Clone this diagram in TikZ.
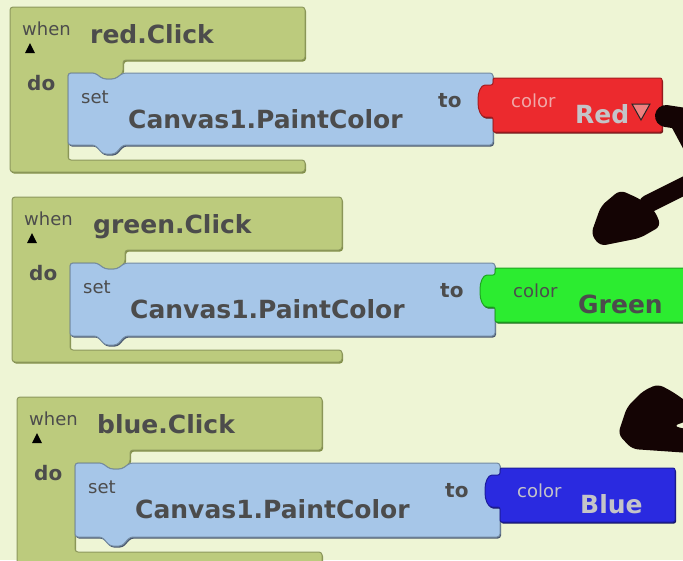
\documentclass[tikz,border=0pt]{standalone}
\usepackage{fontspec}
\setmainfont{DejaVu Sans}
\usepackage{tikz}
\usetikzlibrary{calc,shadows}
\definecolor{bgyellow}{RGB}{238,245,213}
\definecolor{evtgreen}{RGB}{188,203,125}
\definecolor{evtedge}{RGB}{128,142,70}
\definecolor{setblue}{RGB}{166,198,232}
\definecolor{setedge}{RGB}{74,88,110}
\definecolor{valred}{RGB}{236,42,46}
\definecolor{valgreen}{RGB}{44,236,48}
\definecolor{valblue}{RGB}{42,42,224}
\definecolor{labelgray}{RGB}{76,76,76}
\definecolor{palegray}{RGB}{196,196,200}
\definecolor{pinktxt}{RGB}{240,168,168}
\definecolor{pinkfill}{RGB}{240,128,128}
\definecolor{inkblack}{RGB}{20,4,4}

\begin{document}
\begin{tikzpicture}[x=1pt,y=-1pt,
    evtblk/.style={fill=evtgreen,draw=evtgreen!75!black,line width=1pt,rounded corners=3pt,
      drop shadow={shadow xshift=1pt,shadow yshift=-1.5pt,fill=evtedge,opacity=1}},
    setblk/.style={fill=setblue,draw=setblue!70!black,line width=1pt,rounded corners=3pt,
      drop shadow={shadow xshift=1pt,shadow yshift=-1.5pt,fill=setedge,opacity=1}},
    valblk/.style={fill=#1,draw=#1!70!black,line width=1pt,rounded corners=2pt,
      drop shadow={shadow xshift=1pt,shadow yshift=-1.5pt,fill=#1!45!black,opacity=1}},
    smalltxt/.style={anchor=base west,inner sep=0pt,text=labelgray,
      font=\fontsize{18pt}{20pt}\selectfont},
    kwtxt/.style={anchor=base west,inner sep=0pt,text=labelgray,
      font=\fontsize{20pt}{22pt}\selectfont\bfseries},
    bigtxt/.style={anchor=base west,inner sep=0pt,text=labelgray,
      font=\fontsize{25pt}{28pt}\selectfont\bfseries}]
  \useasboundingbox (0,0) rectangle (683,560);
  \clip (0,0) rectangle (683,560);
  \fill[bgyellow] (0,0) rectangle (683,560);
  %% red.Click
  \begin{scope}[shift={(10,7)}]
    \draw[evtblk] (0,0) -- (295,0) -- (295,53) -- (113,53) -- (113,66)
      -- (105,72) -- (93,72) -- (85,66) -- (58,66) -- (58,153)
      -- (295,153) -- (295,165) -- (0,165) -- cycle;
    \draw[setblk] (58,66) -- (85,66) -- (93,72) -- (105,72) -- (113,66)
      -- (483,66) -- (483,138) -- (113,138) -- (105,147) -- (93,147)
      -- (85,138) -- (58,138) -- cycle;
    \draw[valblk=valred] (483,71) -- (652,71) -- (652,125) -- (483,125)
      -- (483,110) -- (477,110) .. controls (471,110) and (468,103) .. (468,94)
      .. controls (468,85) and (471,78) .. (477,78) -- (483,78) -- cycle;
    \fill[black] (15,46) -- (25,46) -- (20,36) -- cycle;
    \node[smalltxt] (when1) at (12,28) {when};
    \node[bigtxt] (evt1) at (80,36) {red.Click};
    \node[kwtxt] (do1) at (17,83) {do};
    \node[smalltxt] (set1) at (71,96) {set};
    \node[bigtxt] (prop1) at (118,121) {Canvas1.PaintColor};
    \node[kwtxt] (to1) at (428,100) {to};
    \node[smalltxt,text=pinktxt] (col1) at (501,100) {color};
    \node[bigtxt,text=palegray] (val1) at (565,116) {Red};
    \draw[fill=pinkfill,draw=black!85,line width=1pt]
      (622,97) -- (640,97) -- (631,113) -- cycle;
  \end{scope}
  %% green.Click
  \begin{scope}[shift={(12,197)}]
    \draw[evtblk] (0,0) -- (330,0) -- (330,53) -- (113,53) -- (113,66)
      -- (105,72) -- (93,72) -- (85,66) -- (58,66) -- (58,153)
      -- (330,153) -- (330,165) -- (0,165) -- cycle;
    \draw[setblk] (58,66) -- (85,66) -- (93,72) -- (105,72) -- (113,66)
      -- (483,66) -- (483,139) -- (113,139) -- (105,148) -- (93,148)
      -- (85,139) -- (58,139) -- cycle;
    \draw[valblk=valgreen] (483,71) -- (700,71) -- (700,125) -- (483,125)
      -- (483,110) -- (477,110) .. controls (471,110) and (468,103) .. (468,94)
      .. controls (468,85) and (471,78) .. (477,78) -- (483,78) -- cycle;
    \fill[black] (15,46) -- (25,46) -- (20,36) -- cycle;
    \node[smalltxt] (when2) at (12,28) {when};
    \node[bigtxt] (evt2) at (81,36) {green.Click};
    \node[kwtxt] (do2) at (17,83) {do};
    \node[smalltxt] (set2) at (71,96) {set};
    \node[bigtxt] (prop2) at (118,121) {Canvas1.PaintColor};
    \node[kwtxt] (to2) at (428,100) {to};
    \node[smalltxt] (col2) at (501,100) {color};
    \node[bigtxt] (val2) at (566,116) {Green};
  \end{scope}
  %% blue.Click
  \begin{scope}[shift={(17,397)}]
    \draw[evtblk] (0,0) -- (305,0) -- (305,53) -- (113,53) -- (113,66)
      -- (105,72) -- (93,72) -- (85,66) -- (58,66) -- (58,155)
      -- (305,155) -- (305,167) -- (0,167) -- cycle;
    \draw[setblk] (58,66) -- (85,66) -- (93,72) -- (105,72) -- (113,66)
      -- (483,66) -- (483,140) -- (113,140) -- (105,149) -- (93,149)
      -- (85,140) -- (58,140) -- cycle;
    \draw[valblk=valblue] (483,71) -- (658,71) -- (658,125) -- (483,125)
      -- (483,110) -- (477,110) .. controls (471,110) and (468,103) .. (468,94)
      .. controls (468,85) and (471,78) .. (477,78) -- (483,78) -- cycle;
    \fill[black] (15,46) -- (25,46) -- (20,36) -- cycle;
    \node[smalltxt] (when3) at (12,28) {when};
    \node[bigtxt] (evt3) at (80,36) {blue.Click};
    \node[kwtxt] (do3) at (17,83) {do};
    \node[smalltxt] (set3) at (71,96) {set};
    \node[bigtxt] (prop3) at (118,121) {Canvas1.PaintColor};
    \node[kwtxt] (to3) at (428,100) {to};
    \node[smalltxt,text=palegray] (col3) at (500,100) {color};
    \node[bigtxt,text=palegray] (val3) at (563,116) {Blue};
  \end{scope}
  %% hand-drawn arrows
  \draw[inkblack,line width=22pt,line cap=round] (666,116) -- (692,120);
  \draw[inkblack,line width=18pt,line cap=round] (678,120) -- (692,146);
  \draw[inkblack,line width=18pt,line cap=round] (692,182) -- (648,204);
  \fill[inkblack,rounded corners=6pt] (620,190) -- (601,206) -- (591,234)
    -- (600,246) -- (640,238) -- (661,226) -- (655,211) -- (640,199) -- cycle;
  \fill[inkblack,rounded corners=6pt] (658,384) -- (673,392) -- (690,404)
    -- (690,420) -- (673,426) -- (690,430) -- (690,453) -- (632,449)
    -- (618,434) -- (627,407) -- (643,391) -- cycle;
\end{tikzpicture}
\end{document}
